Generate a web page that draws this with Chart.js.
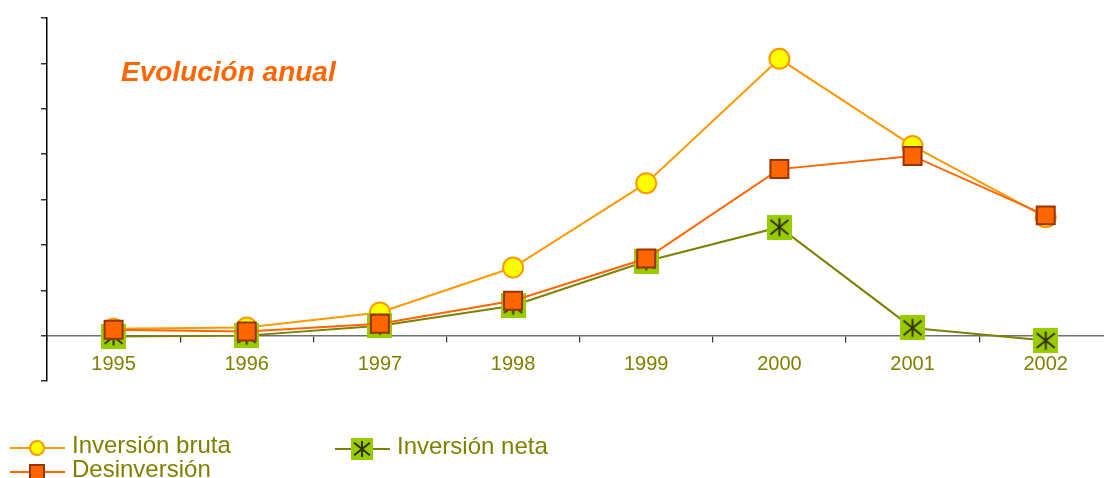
<!DOCTYPE html>
<html>
<head>
<meta charset="utf-8">
<script src="https://cdn.jsdelivr.net/npm/chart.js@4/dist/chart.umd.min.js"></script>
<style>
  html, body {
    margin: 0;
    padding: 0;
    background: #ffffff;
    overflow: hidden;
  }
  .wrap {
    position: relative;
    width: 1104px;
    height: 478px;
    overflow: hidden;
  }
  #chart {
    position: absolute;
    left: 0;
    top: 0;
  }
  .chart-title {
    position: absolute;
    left: 121px;
    top: 58px;
    font: italic bold 28px "Liberation Sans", Arial, sans-serif;
    line-height: 28px;
    color: #ff6600;
    white-space: nowrap;
  }
</style>
</head>
<body>
<div class="wrap">
  <canvas id="chart" width="1127" height="478"></canvas>
  <div class="chart-title">Evolución anual</div>
</div>

<script>
const years = ["1995", "1996", "1997", "1998", "1999", "2000", "2001", "2002"];
const inversionBruta = [0.15, 0.18, 0.51, 1.5, 3.36, 6.1, 4.18, 2.61];
const desinversion = [0.13, 0.09, 0.26, 0.77, 1.7, 3.67, 3.96, 2.65];
const inversionNeta = [-0.02, 0, 0.22, 0.66, 1.64, 2.39, 0.17, -0.11];

const TEXT_COLOR = "#808000";
const FONT_FAMILY = "'Liberation Sans', Arial, sans-serif";

// green square with a dark asterisk, used as marker for Inversión neta
function makeNetaIcon(size) {
  const c = document.createElement("canvas");
  c.width = size;
  c.height = size;
  const g = c.getContext("2d");
  g.fillStyle = "#99cc00";
  g.fillRect(0, 0, size, size);
  g.strokeStyle = "#333300";
  g.lineWidth = 2;
  const m = size / 2;
  const r = size * 0.36;
  g.beginPath();
  g.moveTo(m, m - r);
  g.lineTo(m, m + r);
  g.moveTo(m - r, m - r * 0.8);
  g.lineTo(m + r, m + r * 0.8);
  g.moveTo(m - r, m + r * 0.8);
  g.lineTo(m + r, m - r * 0.8);
  g.stroke();
  return c;
}

const netaPoint = makeNetaIcon(25);
const netaLegendIcon = makeNetaIcon(22);

// legend drawn under the plot: line sample with marker in the middle
const lineLegend = {
  id: "lineLegend",
  afterDraw(chart) {
    const ctx = chart.ctx;
    const items = [
      { ds: 0, x: 10, y: 448, text: "Inversión bruta" },
      { ds: 2, x: 335, y: 449, text: "Inversión neta" },
      { ds: 1, x: 10, y: 472, text: "Desinversión" }
    ];

    ctx.save();
    items.forEach(item => {
      const ds = chart.data.datasets[item.ds];
      const mid = item.x + 27;

      ctx.strokeStyle = ds.borderColor;
      ctx.lineWidth = 2;
      ctx.beginPath();
      ctx.moveTo(item.x, item.y);
      ctx.lineTo(item.x + 55, item.y);
      ctx.stroke();

      if (item.ds === 0) {
        ctx.fillStyle = ds.pointBackgroundColor;
        ctx.strokeStyle = ds.pointBorderColor;
        ctx.beginPath();
        ctx.arc(mid, item.y, 7, 0, Math.PI * 2);
        ctx.fill();
        ctx.stroke();
      } else if (item.ds === 1) {
        ctx.fillStyle = ds.pointBackgroundColor;
        ctx.strokeStyle = ds.pointBorderColor;
        ctx.fillRect(mid - 7, item.y - 7, 14, 14);
        ctx.strokeRect(mid - 7, item.y - 7, 14, 14);
      } else {
        ctx.drawImage(netaLegendIcon, mid - 11, item.y - 11);
      }

      ctx.fillStyle = TEXT_COLOR;
      ctx.font = "24px " + FONT_FAMILY;
      ctx.textBaseline = "alphabetic";
      ctx.textAlign = "left";
      ctx.fillText(item.text, item.x + 62, item.y + 5);
    });
    ctx.restore();
  }
};

new Chart(document.getElementById("chart"), {
  type: "line",
  data: {
    labels: years,
    datasets: [
      {
        label: "Inversión bruta",
        data: inversionBruta,
        borderColor: "#ff9900",
        borderWidth: 2,
        pointStyle: "circle",
        pointRadius: 10,
        pointBorderWidth: 2,
        pointBackgroundColor: "#ffff00",
        pointBorderColor: "#ff9900",
        order: 2
      },
      {
        label: "Desinversión",
        data: desinversion,
        borderColor: "#ff6600",
        borderWidth: 2,
        pointStyle: "rect",
        pointRadius: 12.7,
        pointBorderWidth: 2,
        pointBackgroundColor: "#ff6600",
        pointBorderColor: "#993300",
        order: 0
      },
      {
        label: "Inversión neta",
        data: inversionNeta,
        borderColor: "#808000",
        borderWidth: 2,
        pointStyle: netaPoint,
        pointRadius: 12,
        order: 1
      }
    ]
  },
  options: {
    responsive: false,
    animation: false,
    events: [],
    layout: {
      padding: { top: 18, bottom: 97, left: 0, right: 0 }
    },
    plugins: {
      legend: { display: false },
      tooltip: { enabled: false }
    },
    scales: {
      x: {
        position: { y: 0 },
        offset: true,
        afterFit: scale => {
          scale.height = 0;
          scale.paddingLeft = 0;
          scale.paddingRight = 0;
        },
        border: { color: "#707070", width: 1.5 },
        grid: {
          offset: true,
          drawOnChartArea: false,
          drawTicks: true,
          tickLength: 6,
          color: "#333333",
          lineWidth: 1.2
        },
        ticks: {
          color: TEXT_COLOR,
          font: { family: FONT_FAMILY, size: 20 },
          padding: 11,
          maxRotation: 0
        }
      },
      y: {
        min: -1,
        max: 7,
        afterFit: scale => { scale.width = 47; },
        border: { color: "#000000", width: 1.5 },
        grid: {
          drawOnChartArea: false,
          drawTicks: true,
          tickLength: 6,
          color: "#333333",
          lineWidth: 1.5
        },
        ticks: {
          display: false,
          stepSize: 1
        }
      }
    }
  },
  plugins: [lineLegend]
});
</script>
</body>
</html>
